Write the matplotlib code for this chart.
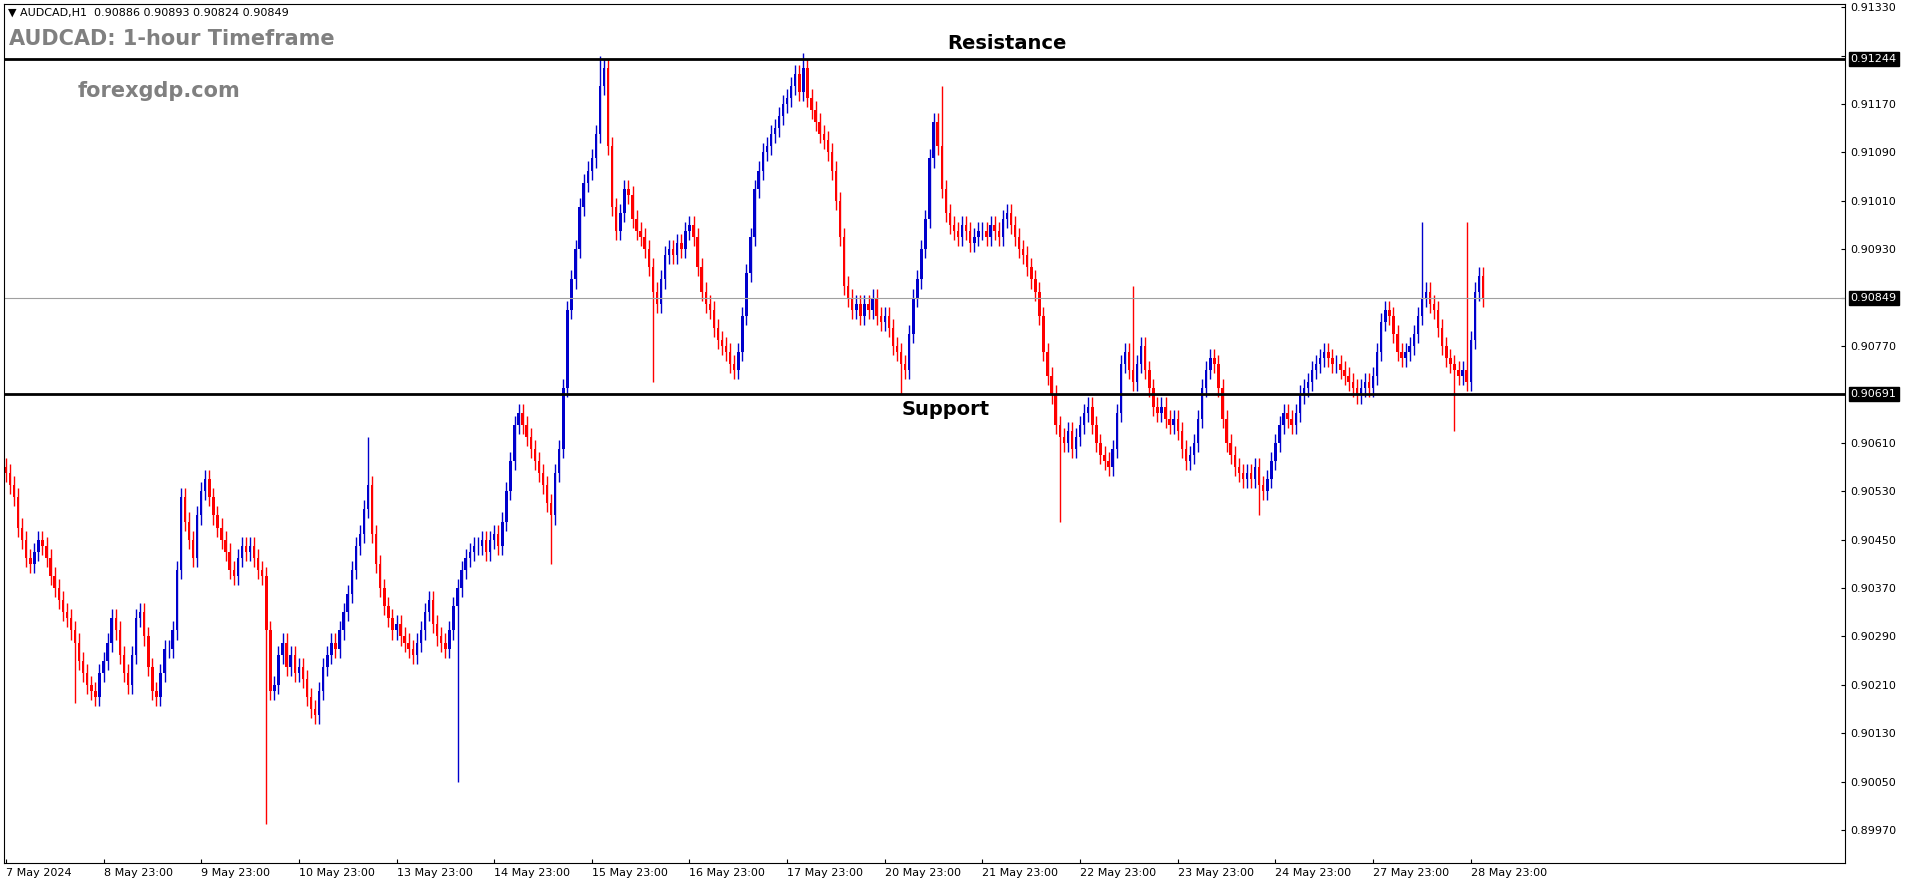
import numpy as np
import matplotlib
matplotlib.use("Agg")
import matplotlib.pyplot as plt
from matplotlib.patches import Rectangle

# hourly closes, in 1e-5 above 0.90000, one row per trading day
CLOSES = [
    [560,540,520,470,450,420,410,430,450,440,420,390,370,350,330,320,300,280,250,230,210,200,190,230],
    [250,280,320,300,260,230,210,260,320,330,290,240,200,190,230,270,270,300,400,520,480,450,420,490],
    [530,550,520,490,470,450,430,400,390,420,440,430,440,420,400,390,300,200,210,260,280,240,260,230],
    [240,220,190,170,160,200,240,260,280,270,300,330,360,400,440,460,500,540,460,410,370,340,320,300],
    [310,290,280,270,260,280,300,330,350,310,290,280,270,300,340,370,400,420,430,440,440,450,430,450],
    [460,440,480,530,580,640,660,640,620,600,580,560,540,510,490,560,600,700,830,880,930,1000,1040,1060],
    [1080,1120,1200,1230,1100,1000,960,990,1030,1020,980,960,950,930,900,860,840,880,920,930,920,940,930,960],
    [970,950,900,860,840,830,800,780,770,760,740,730,760,820,890,950,1030,1060,1090,1100,1120,1130,1150,1170],
    [1180,1200,1220,1190,1230,1180,1160,1140,1120,1110,1090,1060,1010,950,870,850,830,840,820,840,830,850,820,810],
    [820,800,770,760,740,730,790,850,880,930,980,1080,1140,1100,1030,990,970,960,950,970,960,940,950,960],
    [960,950,970,960,950,980,990,970,950,930,920,900,880,860,820,760,720,690,640,620,610,630,600,620],
    [640,660,670,640,610,590,580,570,600,660,740,760,730,710,740,770,730,700,670,660,670,650,640,650],
    [630,600,580,590,610,650,700,730,750,740,700,650,610,590,570,560,550,560,550,570,540,530,550,580],
    [610,640,660,650,640,660,690,700,710,730,740,750,760,750,740,740,730,720,710,700,690,700,710,700],
    [720,760,810,830,820,790,760,750,760,770,790,820,850,860,840,830,800,770,750,740,730,720,730,710],
    [780,860,886,849],
]
# notable wick extremes: candle index -> (high, low) in 1e-5 units
SPIKES = {17: (None, 180), 64: (None, -20), 89: (620, None), 111: (None, 50),
          134: (None, 410), 146: (1250, None), 159: (None, 710), 196: (1255, None),
          230: (1200, None), 220: (None, 690), 259: (None, 480), 277: (870, None),
          308: (None, 490), 348: (975, None), 356: (None, 630), 359: (975, None)}
DAY_LABELS = ["7 May 2024", "8 May 23:00", "9 May 23:00", "10 May 23:00", "13 May 23:00",
              "14 May 23:00", "15 May 23:00", "16 May 23:00", "17 May 23:00", "20 May 23:00",
              "21 May 23:00", "22 May 23:00", "23 May 23:00", "24 May 23:00", "27 May 23:00",
              "28 May 23:00"]
RESIST, SUPPORT, LAST = 0.91244, 0.90691, 0.90849
YTICKS = [0.89970 + 0.0008 * i for i in range(18)]
WICK = 15

closes = 0.9 + np.array([v for d in CLOSES for v in d]) / 1e5
opens = np.r_[closes[0] + 0.0001, closes[:-1]]

fig = plt.figure(figsize=(19.16, 8.84), dpi=100)
ax = fig.add_axes([0.002, 0.024, 0.961, 0.972])
for i, (o, c) in enumerate(zip(opens, closes)):
    col = "#0000cc" if c >= o else "#ff0000"
    hi = max(o, c) + WICK / 1e5
    lo = min(o, c) - WICK / 1e5
    if i in SPIKES:
        h, l = SPIKES[i]
        if h is not None: hi = 0.9 + h / 1e5
        if l is not None: lo = 0.9 + l / 1e5
    ax.vlines(i, lo, hi, color=col, lw=1)
    ax.add_patch(Rectangle((i - 0.3, min(o, c)), 0.6, max(abs(c - o), 1e-6),
                           color=col, lw=0))

ax.axhline(RESIST, color="black", lw=2)
ax.axhline(SUPPORT, color="black", lw=2)
ax.axhline(LAST, color="#a0a0a0", lw=0.8)
ax.set_xlim(-0.5, 452)
ax.set_ylim(0.89916, 0.91336)
ax.yaxis.tick_right()
ax.set_yticks(YTICKS)
ax.set_yticklabels([f"{t:.5f}" for t in YTICKS], fontsize=8)
for v in (RESIST, SUPPORT, LAST):
    ax.text(1.003, v, f"{v:.5f}", transform=ax.get_yaxis_transform(), fontsize=8,
            va="center", color="white",
            bbox=dict(facecolor="black", edgecolor="black", pad=1.5))
ax.set_xticks(np.arange(len(DAY_LABELS)) * 24)
ax.set_xticklabels(DAY_LABELS, fontsize=8, ha="left")
ax.tick_params(direction="in", length=3)

ax.text(0.002, 0.995, "▼ AUDCAD,H1  0.90886 0.90893 0.90824 0.90849", transform=ax.transAxes,
        fontsize=8, va="top")
ax.text(0.003, 0.97, "AUDCAD: 1-hour Timeframe", transform=ax.transAxes,
        fontsize=15, fontweight="bold", color="#808080", va="top")
ax.text(0.04, 0.91, "forexgdp.com", transform=ax.transAxes,
        fontsize=15, fontweight="bold", color="#808080", va="top")
ax.text(246, RESIST + 0.0001, "Resistance", fontsize=14, fontweight="bold", va="bottom", ha="center")
ax.text(231, SUPPORT - 0.0001, "Support", fontsize=14, fontweight="bold", va="top", ha="center")

fig.savefig("out.png", dpi=100)
